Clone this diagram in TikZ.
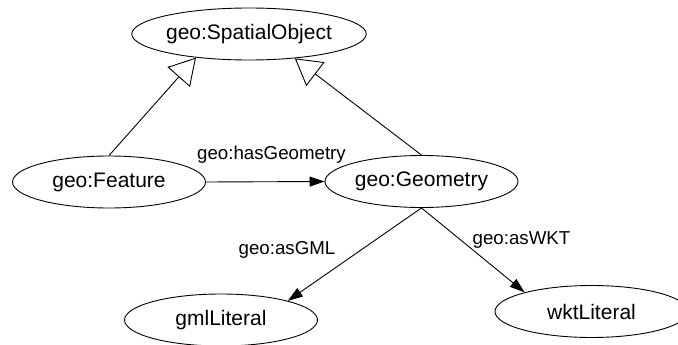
\documentclass[tikz,border=0pt]{standalone}
\usepackage{fontspec}
\setmainfont{Liberation Sans}
\usetikzlibrary{arrows.meta,shapes.geometric}

\begin{document}
\begin{tikzpicture}[x=1pt, y=-1pt,
  cls/.style={draw, ellipse, line width=0.9pt, minimum width=193pt, minimum height=52pt, inner sep=0pt, font=\fontsize{21}{25}\selectfont},
  lbl/.style={inner sep=0pt, font=\fontsize{18.7}{22}\selectfont},
  isa/.style={line width=0.9pt, -{Triangle[open, length=26pt, width=30pt, line width=0.9pt]}},
  prop/.style={line width=0.9pt, -{Triangle[length=15pt, width=10pt]}}]
  \clip (0,0) rectangle (678,345);

  % classes
  \node[cls] (spatial) at (249,34) {geo:SpatialObject};
  \node[cls] (feature) at (109,182) {geo:Feature};
  \node[cls] (geometry) at (421.5,181.5) {geo:Geometry};
  \node[cls] (gml) at (221,320) {gmlLiteral};
  \node[cls] (wkt) at (591.5,311.5) {wktLiteral};

  % subclass links
  \draw[isa] (feature.north) -- (spatial.204);
  \draw[isa] (geometry.north) -- (spatial.332);

  % properties
  \draw[prop] (feature.east) -- (geometry.west);
  \draw[prop] (geometry.south) -- (gml.16);
  \draw[prop] (geometry.south) -- (wkt.164);

  \node[lbl] (hasgeom) at (271.5,155) {geo:hasGeometry};
  \node[lbl] (asgml) at (287,250) {geo:asGML};
  \node[lbl] (aswkt) at (521.5,240) {geo:asWKT};
\end{tikzpicture}
\end{document}
